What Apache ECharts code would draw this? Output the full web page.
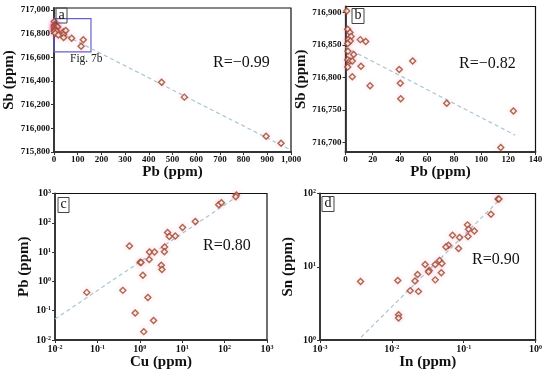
<!DOCTYPE html>
<html><head><meta charset="utf-8">
<script src="https://cdn.jsdelivr.net/npm/echarts@6/dist/echarts.min.js"></script>
<style>html,body{margin:0;padding:0;background:#fff}#c{width:550px;height:374px}</style>
</head><body><div id="c"></div>
<script>
// ---- Panel a/b: Sb vs Pb (ppm) ----
const pbB = [0.9,1.6,3.3,4.1,2.1,3.5,1.6,10.9,14.9,1.8,6.0,1.6,3.3,5.0,1.6,11.4,5.0,39.6,40.4,18.1,49.5,40.7,74.6,123.7,114.4];
const sbB = [716902,716874,716869,716863,716858,716856,716852,716858,716855,716840,716835,716827,716825,716825,716816,716817,716801,716812,716791,716787,716825,716767,716760,716748,716692];
const pbHigh = [454,550,895,958];
const sbHigh = [716388,716263,715933,715873];
const trendAX = [0,1000], trendAY = [716832,715816];
const trendBX = [0,125],  trendBY = [716846,716711];
const figBox = [[0,716925],[156,716645]];
// ---- Panel c: Pb vs Cu ----
const cuC = [190,183,72.6,84,20.4,10.2,6.87,4.52,4.96,3.84,3.8,1.69,2.23,1.67,1.02,1.07,3.21,3.33,1.18,0.571,1.55,0.778,2.11,1.24,0.0561,0.398];
const pbC = [887,776,412,483,111,68.9,35.5,46.5,33.8,14.9,10.3,10.0,10.0,5.61,4.53,4.4,3.57,2.54,1.62,16.1,0.284,0.0828,0.046,0.0193,0.422,0.494];
const trendCX = [0.01,240], trendCY = [0.052,960];
// ---- Panel d: Sn vs In ----
const inD = [0.301,0.310,0.240,0.113,0.117,0.141,0.115,0.070,0.0877,0.0615,0.0566,0.0849,0.0291,0.0402,0.0461,0.0498,0.0331,0.0324,0.0228,0.0488,0.0210,0.0402,0.0180,0.0235,0.00367,0.0121,0.0124,0.0124];
const snD = [84,84,52.2,37.3,32.5,30.8,25.8,26.9,25.0,19.6,18.6,17.7,10.7,10.7,12.2,11.1,8.88,8.53,7.82,8.26,6.41,6.62,4.72,4.61,6.27,6.47,2.21,1.99];
const trendDX = [0.00373,0.324], trendDY = [1.09,84];
// ---- ticks ----
const ticksAX = [0,100,200,300,400,500,600,700,800,900,1000];
const ticksAY = [715800,716000,716200,716400,716600,716800,717000];
const ticksBX = [0,20,40,60,80,100,120,140];
const ticksBY = [716700,716750,716800,716850,716900];
const ticksCX = [0.01,0.1,1,10,100,1000];
const ticksCY = [0.01,0.1,1,10,100,1000];
const ticksDX = [0.001,0.01,0.1,1];
const ticksDY = [1,10,100];
const rTexts = ['R=\u22120.99','R=\u22120.82','R=0.80','R=0.90'];
const panelLetters = ['a','b','c','d'];

const zip = (a,b)=>a.map((v,i)=>[v,b[i]]);
const SERIF = '"Liberation Serif","Times New Roman",serif';
const fmtNum = v => Math.round(v).toLocaleString('en-US');
const fmtLog = v => '{b|10}{s|' + Math.round(Math.log10(v)) + '}';
const richLog = {b:{fontSize:10,fontWeight:'bold',fontFamily:SERIF,color:'#111'},
                 s:{fontSize:6,fontWeight:'bold',fontFamily:SERIF,color:'#111',verticalAlign:'top'}};

function axis(o){
  const base = {
    gridIndex:o.g, type:o.type||'value', min:o.min, max:o.max,
    name:o.name, nameLocation:'middle', nameGap:o.gap, nameRotate:o.rot,
    nameTextStyle:{fontFamily:SERIF,fontWeight:'bold',fontSize:15,color:'#111'},
    axisLine:{show:true,onZero:false,lineStyle:{color:'#333',width:1.8}},
    axisTick:{show:true,inside:false,length:3,customValues:o.ticks,lineStyle:{color:'#333',width:1}},
    axisLabel:{show:true,customValues:o.ticks,margin:o.margin||4,fontFamily:SERIF,fontWeight:'bold',fontSize:9,color:'#111',
      formatter:o.fmt, rich:o.rich},
    splitLine:{show:false}, minorTick:{show:false}
  };
  if(o.type==='log') base.logBase=10;
  return base;
}
const sym = {symbol:'diamond',symbolSize:6,
  itemStyle:{color:'#fffaf6',borderColor:'#984522',borderWidth:1.4,shadowColor:'rgba(240,110,170,0.3)',shadowBlur:5}};
const trendStyle = {type:'line',showSymbol:false,symbol:'none',silent:true,z:1,
  lineStyle:{color:'#a8c6d8',width:1.2,type:[4,3]}};

const option = {
  backgroundColor:'#fff', animation:false,
  grid:[
    {left:54,top:8,width:237,height:144,show:true,borderColor:'#111',borderWidth:1.2,outerBoundsMode:'none'},
    {left:345.5,top:6.5,width:190,height:145.5,show:true,borderColor:'#111',borderWidth:1.2,outerBoundsMode:'none'},
    {left:55,top:193.5,width:212,height:146.5,show:true,borderColor:'#111',borderWidth:1.2,outerBoundsMode:'none'},
    {left:320,top:193.5,width:215.5,height:146.5,show:true,borderColor:'#111',borderWidth:1.2,outerBoundsMode:'none'}
  ],
  xAxis:[
    axis({g:0,min:0,max:1000,ticks:ticksAX,name:'Pb (ppm)',gap:11,margin:3}),
    axis({g:1,min:0,max:140,ticks:ticksBX,name:'Pb (ppm)',gap:10,margin:3}),
    axis({g:2,type:'log',min:0.01,max:1000,ticks:ticksCX,name:'Cu (ppm)',gap:13,fmt:fmtLog,rich:richLog}),
    axis({g:3,type:'log',min:0.001,max:1,ticks:ticksDX,name:'In (ppm)',gap:13,fmt:fmtLog,rich:richLog})
  ],
  yAxis:[
    axis({g:0,min:715800,max:717015,ticks:ticksAY,name:'Sb (ppm)',gap:36,rot:90,fmt:fmtNum}),
    axis({g:1,min:716685,max:716909,ticks:ticksBY,name:'Sb (ppm)',gap:33,rot:90,fmt:fmtNum}),
    axis({g:2,type:'log',min:0.01,max:1000,ticks:ticksCY,name:'Pb (ppm)',gap:23,rot:90,fmt:fmtLog,rich:richLog}),
    axis({g:3,type:'log',min:1,max:100,ticks:ticksDY,name:'Sn (ppm)',gap:24,rot:90,fmt:fmtLog,rich:richLog})
  ],
  title: panelLetters.map((t,i)=>({
    text:t, left:[56,352,58,322][i], top:[8.5,9,198,197][i],
    padding:[0,2.5,1,2.5], borderColor:'#444', borderWidth:1,
    textStyle:{fontFamily:SERIF,fontWeight:'normal',fontSize:14,color:'#111',lineHeight:13}
  })).concat(rTexts.map((t,i)=>({
    text:t, left:[213,459,203,472][i], top:[55,56,238,252][i], padding:0,
    textStyle:{fontFamily:SERIF,fontWeight:'normal',fontSize:16,color:'#111'}
  }))).concat([{text:'Fig. 7b',left:70,top:53,padding:0,
    textStyle:{fontFamily:SERIF,fontWeight:'normal',fontSize:11.5,color:'#222'}}]),
  series:[
    Object.assign({},trendStyle,{xAxisIndex:0,yAxisIndex:0,data:zip(trendAX,trendAY)}),
    Object.assign({},trendStyle,{xAxisIndex:1,yAxisIndex:1,data:zip(trendBX,trendBY)}),
    Object.assign({},trendStyle,{xAxisIndex:2,yAxisIndex:2,data:zip(trendCX,trendCY)}),
    Object.assign({},trendStyle,{xAxisIndex:3,yAxisIndex:3,data:zip(trendDX,trendDY)}),
    Object.assign({type:'scatter',xAxisIndex:0,yAxisIndex:0,z:3,data:zip(pbB,sbB).concat(zip(pbHigh,sbHigh)),
      markArea:{silent:true,itemStyle:{color:'rgba(0,0,0,0)',borderColor:'#6a5fd0',borderWidth:1.2},
        data:[[{coord:figBox[0]},{coord:figBox[1]}]]}},sym),
    Object.assign({type:'scatter',xAxisIndex:1,yAxisIndex:1,z:3,data:zip(pbB,sbB)},sym),
    Object.assign({type:'scatter',xAxisIndex:2,yAxisIndex:2,z:3,data:zip(cuC,pbC)},sym),
    Object.assign({type:'scatter',xAxisIndex:3,yAxisIndex:3,z:3,data:zip(inD,snD)},sym)
  ]
};
echarts.init(document.getElementById('c'),null,{renderer:'canvas'}).setOption(option);
</script></body></html>
